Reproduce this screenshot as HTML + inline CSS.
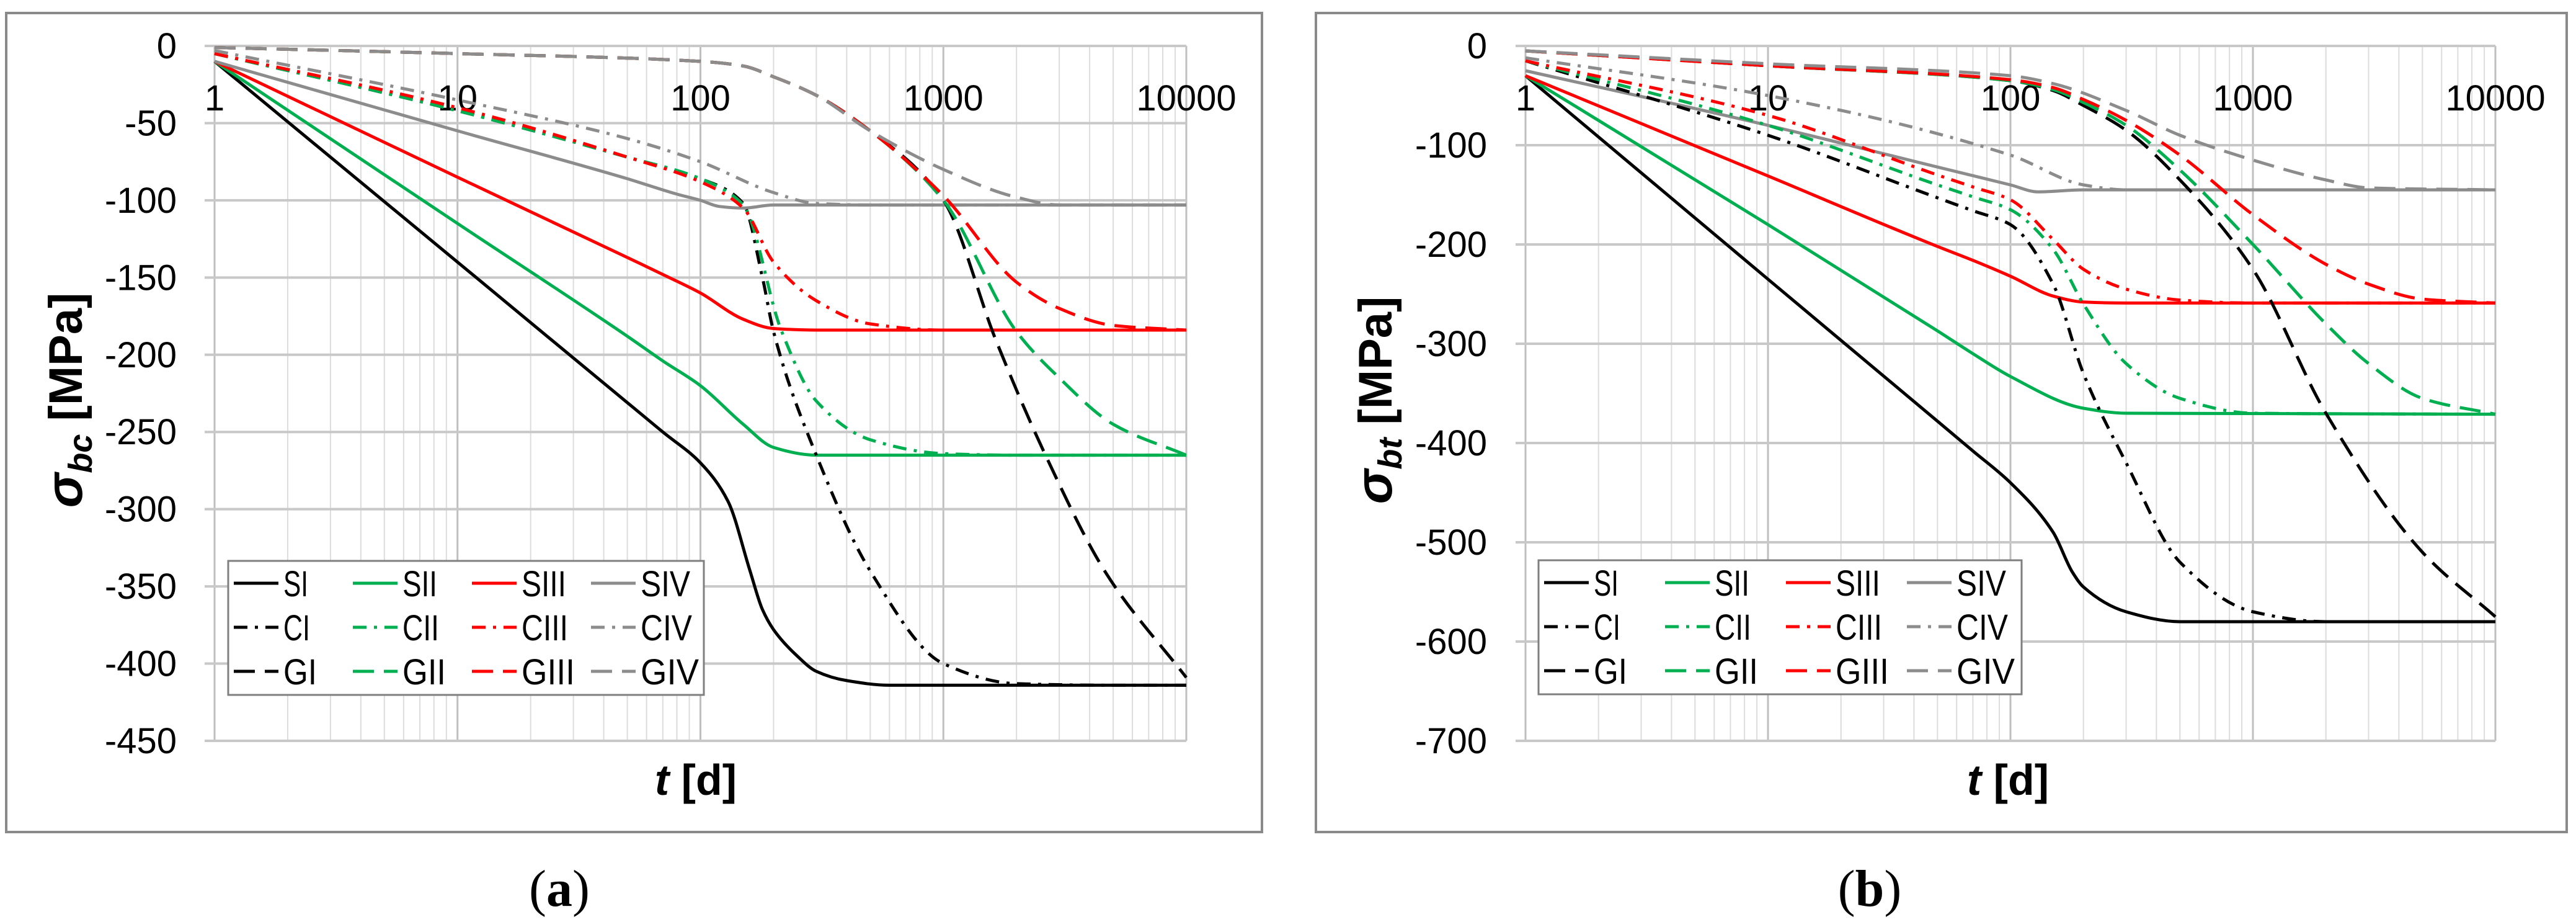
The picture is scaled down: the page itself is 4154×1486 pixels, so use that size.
<!DOCTYPE html>
<html><head><meta charset="utf-8"><style>
html,body{margin:0;padding:0;background:#fff;width:4154px;height:1486px;overflow:hidden}
svg{display:block}
text{font-family:"Liberation Sans",sans-serif}
</style></head><body>
<svg id="fig" width="4154" height="1486" viewBox="0 0 4154 1486" xmlns="http://www.w3.org/2000/svg"></svg>
<script>
// ---------- shared categories ----------
const seriesNames = ["SI","SII","SIII","SIV","CI","CII","CIII","CIV","GI","GII","GIII","GIV"];
const xTickLabels = ["1","10","100","1000","10000"];
// ---------- chart (a) data: [t, sigma] ----------
const aSI   = [[1,-10],[10,-140],[50,-231],[70,-250],[100,-270],[130,-295],[160,-340],[180,-365],[200,-378],[250,-395],[300,-405],[400,-411],[600,-414],[10000,-414]];
const aSII  = [[1,-10],[10,-115],[50,-188],[70,-204],[100,-220],[150,-245],[200,-260],[300,-265],[10000,-265]];
const aSIII = [[1,-10],[10,-85],[50,-137],[70,-148],[100,-160],[150,-177],[200,-183],[300,-184],[10000,-184]];
const aSIV  = [[1,-10],[10,-55],[50,-86],[80,-96],[100,-100],[120,-104],[150,-105],[200,-103],[10000,-103]];
const aCI   = [[1,-5],[10,-42],[50,-72],[100,-86],[150,-102],[180,-150],[200,-185],[300,-265],[500,-340],[1000,-400],[2000,-413],[5000,-414],[10000,-414]];
const aCII  = [[1,-5],[10,-42],[50,-72],[100,-86],[150,-103],[215,-184],[300,-230],[500,-255],[1000,-264],[2000,-265],[10000,-265]];
const aCIII = [[1,-5],[10,-40],[50,-72],[100,-88],[150,-105],[200,-140],[300,-165],[500,-180],[1000,-184],[10000,-184]];
const aCIV  = [[1,-3],[10,-35],[50,-60],[100,-75],[200,-95],[300,-102],[500,-103],[10000,-103]];
const aGI   = [[1,-1],[10,-5],[100,-10],[150,-13],[200,-20],[300,-32],[500,-55],[1000,-100],[1650,-191],[2650,-266],[4700,-342],[10000,-409]];
const aGII  = [[1,-1],[10,-5],[100,-10],[150,-13],[200,-20],[300,-32],[500,-55],[1000,-100],[2000,-185],[3000,-215],[5000,-245],[10000,-265]];
const aGIII = [[1,-1],[10,-5],[100,-10],[150,-13],[200,-20],[300,-32],[500,-55],[1000,-97],[2000,-153],[3000,-170],[5000,-181],[10000,-184]];
const aGIV  = [[1,-1],[10,-5],[100,-10],[150,-13],[200,-20],[300,-32],[500,-55],[1000,-80],[2000,-98],[3000,-103],[10000,-103]];
const aYTicks = [0,-50,-100,-150,-200,-250,-300,-350,-400,-450];
// ---------- chart (b) data ----------
const bSI   = [[1,-30],[10,-235],[50,-378],[70,-408],[100,-440],[150,-490],[180,-530],[200,-545],[300,-570],[500,-580],[10000,-580]];
const bSII  = [[1,-30],[10,-180],[50,-287],[70,-310],[100,-333],[200,-365],[300,-370],[10000,-371]];
const bSIII = [[1,-30],[10,-131],[50,-202],[70,-216],[100,-232],[150,-252],[200,-258],[300,-259],[10000,-259]];
const bSIV  = [[1,-25],[10,-80],[50,-122],[100,-140],[130,-147],[200,-145],[10000,-145]];
const bCI   = [[1,-15],[10,-90],[50,-153],[70,-166],[100,-180],[150,-240],[200,-330],[300,-420],[500,-520],[1000,-570],[2000,-580],[10000,-580]];
const bCII  = [[1,-15],[10,-80],[50,-140],[70,-152],[100,-165],[150,-205],[200,-260],[300,-320],[500,-355],[1000,-370],[10000,-371]];
const bCIII = [[1,-15],[10,-70],[50,-130],[70,-142],[100,-155],[150,-195],[200,-225],[300,-245],[500,-256],[1000,-259],[10000,-259]];
const bCIV  = [[1,-12],[10,-50],[100,-110],[200,-140],[300,-145],[10000,-145]];
const bGI   = [[1,-5],[10,-20],[100,-35],[150,-45],[200,-60],[300,-85],[500,-135],[1000,-225],[2000,-370],[5000,-510],[10000,-575]];
const bGII  = [[1,-5],[10,-20],[100,-35],[150,-44],[200,-57],[300,-80],[500,-125],[1000,-200],[2000,-280],[3000,-320],[5000,-355],[10000,-371]];
const bGIII = [[1,-5],[10,-20],[100,-34],[150,-42],[200,-54],[300,-75],[500,-110],[1000,-170],[2000,-220],[3000,-240],[5000,-255],[10000,-259]];
const bGIV  = [[1,-5],[10,-18],[100,-30],[150,-38],[300,-65],[500,-90],[1000,-115],[2000,-135],[3000,-143],[10000,-145]];
const bYTicks = [0,-100,-200,-300,-400,-500,-600,-700];

const NS="http://www.w3.org/2000/svg";
const fig=document.getElementById('fig');
function mk(tag,attrs,parent){const e=document.createElementNS(NS,tag);for(const k in attrs)e.setAttribute(k,attrs[k]);(parent||fig).appendChild(e);return e;}
const colors=["#000000","#00b050","#ff0000","#8c8c8c"];
const dashes=["", "22 12 5 12", "34 16"];
const charW={S:24,I:16,C:27,G:38,V:40};

function smoothPath(P){
  const n=P.length; const dx=[],dy=[],m=[],s=[];
  for(let i=0;i<n-1;i++){dx[i]=P[i+1][0]-P[i][0];dy[i]=P[i+1][1]-P[i][1];s[i]=dy[i]/dx[i];}
  m[0]=s[0];m[n-1]=s[n-2];
  for(let i=1;i<n-1;i++){ if(s[i-1]*s[i]<=0) m[i]=0; else { const w1=2*dx[i]+dx[i-1],w2=dx[i]+2*dx[i-1]; m[i]=(w1+w2)/(w1/s[i-1]+w2/s[i]); } }
  let d='M'+P[0][0].toFixed(1)+' '+P[0][1].toFixed(1);
  for(let i=0;i<n-1;i++){
    const h=dx[i]/3;
    d+=' C'+(P[i][0]+h).toFixed(1)+' '+(P[i][1]+m[i]*h).toFixed(1)+' '+(P[i+1][0]-h).toFixed(1)+' '+(P[i+1][1]-m[i+1]*h).toFixed(1)+' '+P[i+1][0].toFixed(1)+' '+P[i+1][1].toFixed(1);
  }
  return d;
}

function drawChart(cfg){
  const g=mk('g',{});
  
  
  const fr=mk('rect',{x:cfg.fx,y:21,width:cfg.fw,height:1320,fill:'#fff',stroke:'#8a8a8a','stroke-width':4},g);
  
  
  const X=t=>cfg.px0+Math.log10(t)*(cfg.px1-cfg.px0)/4;
  const Y=v=>74+(v/cfg.ymin)*(1194-74);
  for(let d=0;d<4;d++)for(let m=1;m<10;m++){
    const t=Math.pow(10,d)*m;
    const l=mk('line',{x1:X(t),x2:X(t),y1:74,y2:1194,stroke:m==1?'#bfbfbf':'#dcdcdc','stroke-width':m==1?3:2},g);
    
    
  }
  const le=mk('line',{x1:X(10000),x2:X(10000),y1:74,y2:1194,stroke:'#bfbfbf','stroke-width':3},g);
  
  
  cfg.yTicks.forEach(v=>{
    const l=mk('line',{x1:cfg.px0-16,x2:X(10000),y1:Y(v),y2:Y(v),stroke:'#c8c8c8','stroke-width':4},g);
    
    
    const tx=mk('text',{x:cfg.ylx,y:Y(v)+20,'text-anchor':'end','font-size':58,fill:'#000'},g);
    tx.textContent=String(v);
    
    
  });
  xTickLabels.forEach((s,i)=>{
    const tx=mk('text',{x:X(Math.pow(10,i)),y:178,'text-anchor':'middle','font-size':58,fill:'#000'},g);
    tx.textContent=s;
    
    
  });
  cfg.series.forEach((pts,i)=>{
    const P=pts.map(p=>[X(p[0]),Y(p[1])]);
    const p=mk('path',{d:smoothPath(P),fill:'none',stroke:colors[i%4],'stroke-width':5,'stroke-dasharray':dashes[Math.floor(i/4)],'stroke-linejoin':'round'},g);
    
    
  });
  const lg=mk('g',{},g);
  
  
  mk('rect',{x:cfg.lx,y:cfg.ly,width:cfg.lw,height:216,fill:'#fff',stroke:'#7f7f7f','stroke-width':3},lg);
  seriesNames.forEach((n,i)=>{
    const c=i%4,r=Math.floor(i/4);
    const x=cfg.lx+9+c*cfg.lcol, y=cfg.ly+36+r*71;
    const e=mk('g',{},lg);
    
    
    mk('line',{x1:x,x2:x+72,y1:y,y2:y,stroke:colors[c],'stroke-width':5,'stroke-dasharray':r==1?'22 12 5 12':(r==2?'34 16':'')},e);
    let w=0; for(const ch of n) w+=charW[ch];
    const t=mk('text',{x:x+80,y:y+21,'font-size':58,fill:'#000',textLength:w,lengthAdjust:'spacingAndGlyphs'},e);
    t.textContent=n;
  });
  const xt=mk('text',{x:cfg.xtx,y:1281,'text-anchor':'middle','font-size':70,'font-weight':'bold',fill:'#000'},g);
  xt.innerHTML='<tspan font-style="italic">t</tspan> [d]';
  
  
  const yt=mk('text',{x:0,y:0,'text-anchor':'middle','font-size':76,'font-weight':'bold',fill:'#000',transform:`translate(${cfg.ytx},645) rotate(-90)`},g);
  yt.innerHTML='<tspan font-style="italic" font-size="84">σ</tspan><tspan font-style="italic" font-size="54" dy="16">'+cfg.sub+'</tspan><tspan dy="-16"> [MPa]</tspan>';
  
  
  const cap=mk('text',{x:cfg.capx,y:1460,'text-anchor':'middle','font-size':84,fill:'#000'},g);
  cap.style.fontFamily='"Liberation Serif",serif';
  cap.innerHTML='(<tspan font-weight="bold">'+cfg.cap+'</tspan>)';
  
  
}
drawChart({name:'chart-a',fx:10,fw:2025,px0:346,px1:1913,ymin:-450,yTicks:aYTicks,ylx:285,
  series:[aSI,aSII,aSIII,aSIV,aCI,aCII,aCIII,aCIV,aGI,aGII,aGIII,aGIV],
  lx:368,ly:904,lw:767,lcol:192,xtx:1122,ytx:132,sub:'bc',capx:902,cap:'a'});
drawChart({name:'chart-b',fx:2122,fw:2017,px0:2460,px1:4024,ymin:-700,yTicks:bYTicks,ylx:2398,
  series:[bSI,bSII,bSIII,bSIV,bCI,bCII,bCIII,bCIV,bGI,bGII,bGIII,bGIV],
  lx:2481,ly:903,lw:779,lcol:195,xtx:3238,ytx:2244,sub:'bt',capx:3015,cap:'b'});
</script>
</body></html>
